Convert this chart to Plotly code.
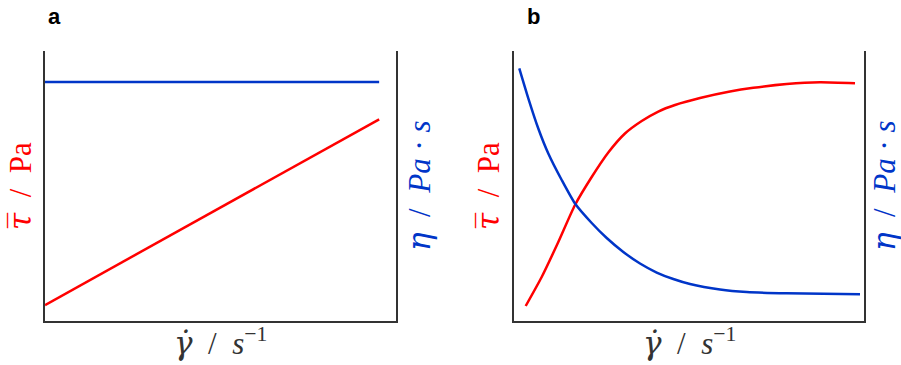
import plotly.graph_objects as go

# Panel a: Newtonian fluid (linear stress, constant viscosity)
a_shear = [0.0, 95.2]
a_stress = [5.9, 74.7]
a_visc_x = [0.0, 95.2]
a_visc = [88.5, 88.5]

# Panel b: shear-thinning fluid
b_stress_x = [3.34, 7.91, 12.66, 17.43, 22.2, 26.94, 31.71, 36.49, 41.23, 46.0, 53.14, 61.71, 68.37, 77.91, 87.43, 97.43]
b_stress = [5.56, 16.3, 29.26, 42.96, 53.33, 62.41, 69.44, 74.07, 77.59, 80.0, 82.59, 85.0, 86.37, 87.78, 88.44, 88.04]
b_visc_x = [1.51, 4.09, 6.94, 9.8, 13.63, 17.43, 22.2, 26.49, 31.23, 36.0, 40.77, 45.51, 50.29, 58.86, 66.49, 77.91, 98.86]
b_visc = [93.59, 82.48, 71.3, 62.04, 52.22, 43.52, 36.3, 30.74, 25.56, 21.3, 17.96, 15.56, 13.7, 11.67, 10.74, 10.26, 9.89]

RED = "#ff0000"
BLUE = "#0035c8"
AXIS = "#333333"
SERIF = "Liberation Serif"
GREEK = "font-family:'DejaVu Serif'"

W, H = 901, 365


def px(x):
    return x / W


def py(y):
    return 1 - y / H


fig = go.Figure()

line_kw = dict(mode="lines", showlegend=False, hoverinfo="skip")
fig.add_trace(go.Scatter(x=a_shear, y=a_stress, xaxis="x", yaxis="y",
                         line=dict(color=RED, width=2.5), **line_kw))
fig.add_trace(go.Scatter(x=a_visc_x, y=a_visc, xaxis="x", yaxis="y2",
                         line=dict(color=BLUE, width=2.5), **line_kw))
fig.add_trace(go.Scatter(x=b_stress_x, y=b_stress, xaxis="x2", yaxis="y3",
                         line=dict(color=RED, width=2.5, shape="spline", smoothing=0.6), **line_kw))
fig.add_trace(go.Scatter(x=b_visc_x, y=b_visc, xaxis="x2", yaxis="y4",
                         line=dict(color=BLUE, width=2.5, shape="spline", smoothing=0.6), **line_kw))

ydom = [py(321), py(51)]
common = dict(showline=True, linecolor=AXIS, linewidth=1.5, showticklabels=False,
              ticks="", showgrid=False, zeroline=False, range=[0, 100], fixedrange=True)

fig.update_layout(
    width=W, height=H,
    margin=dict(l=0, r=0, t=0, b=0),
    paper_bgcolor="white", plot_bgcolor="white",
    xaxis=dict(domain=[px(45), px(396)], anchor="y", **common),
    yaxis=dict(domain=ydom, anchor="x", **common),
    yaxis2=dict(overlaying="y", side="right", anchor="x", **common),
    xaxis2=dict(domain=[px(514), px(864)], anchor="y3", **common),
    yaxis3=dict(domain=ydom, anchor="x2", **common),
    yaxis4=dict(overlaying="y3", side="right", anchor="x2", **common),
)

SP = "\u2002"
tau_label = f"<span style=\"{GREEK}\"><i>τ\u0305</i></span>{SP}/{SP}Pa"
eta_label = f"<span style=\"{GREEK}\"><i>η</i></span>{SP}/{SP}<i>Pa</i> · <i>s</i>"
shear_label = f"<span style=\"{GREEK}\"><i>γ\u0307</i></span>{SP}/{SP}<i>s</i><sup>−1</sup>"

annots = []
for letter, lx, left_x, right_x, mid_x in [("a", 54, 20, 419, 220), ("b", 533, 488, 884, 689)]:
    annots.append(dict(x=px(lx), y=py(16), text=f"<b>{letter}</b>",
                       font=dict(family="Liberation Sans", size=22, color="black")))
    annots.append(dict(x=px(left_x), y=py(186), text=tau_label, textangle=-90,
                       font=dict(family=SERIF, size=31, color=RED)))
    annots.append(dict(x=px(right_x), y=py(186), text=eta_label, textangle=-90,
                       font=dict(family=SERIF, size=31, color=BLUE)))
    annots.append(dict(x=px(mid_x), y=py(341), text=shear_label,
                       font=dict(family=SERIF, size=31, color="#333333")))

for a in annots:
    a.update(xref="paper", yref="paper", showarrow=False, xanchor="center", yanchor="middle")
fig.update_layout(annotations=annots)

fig.write_html("out.html")
